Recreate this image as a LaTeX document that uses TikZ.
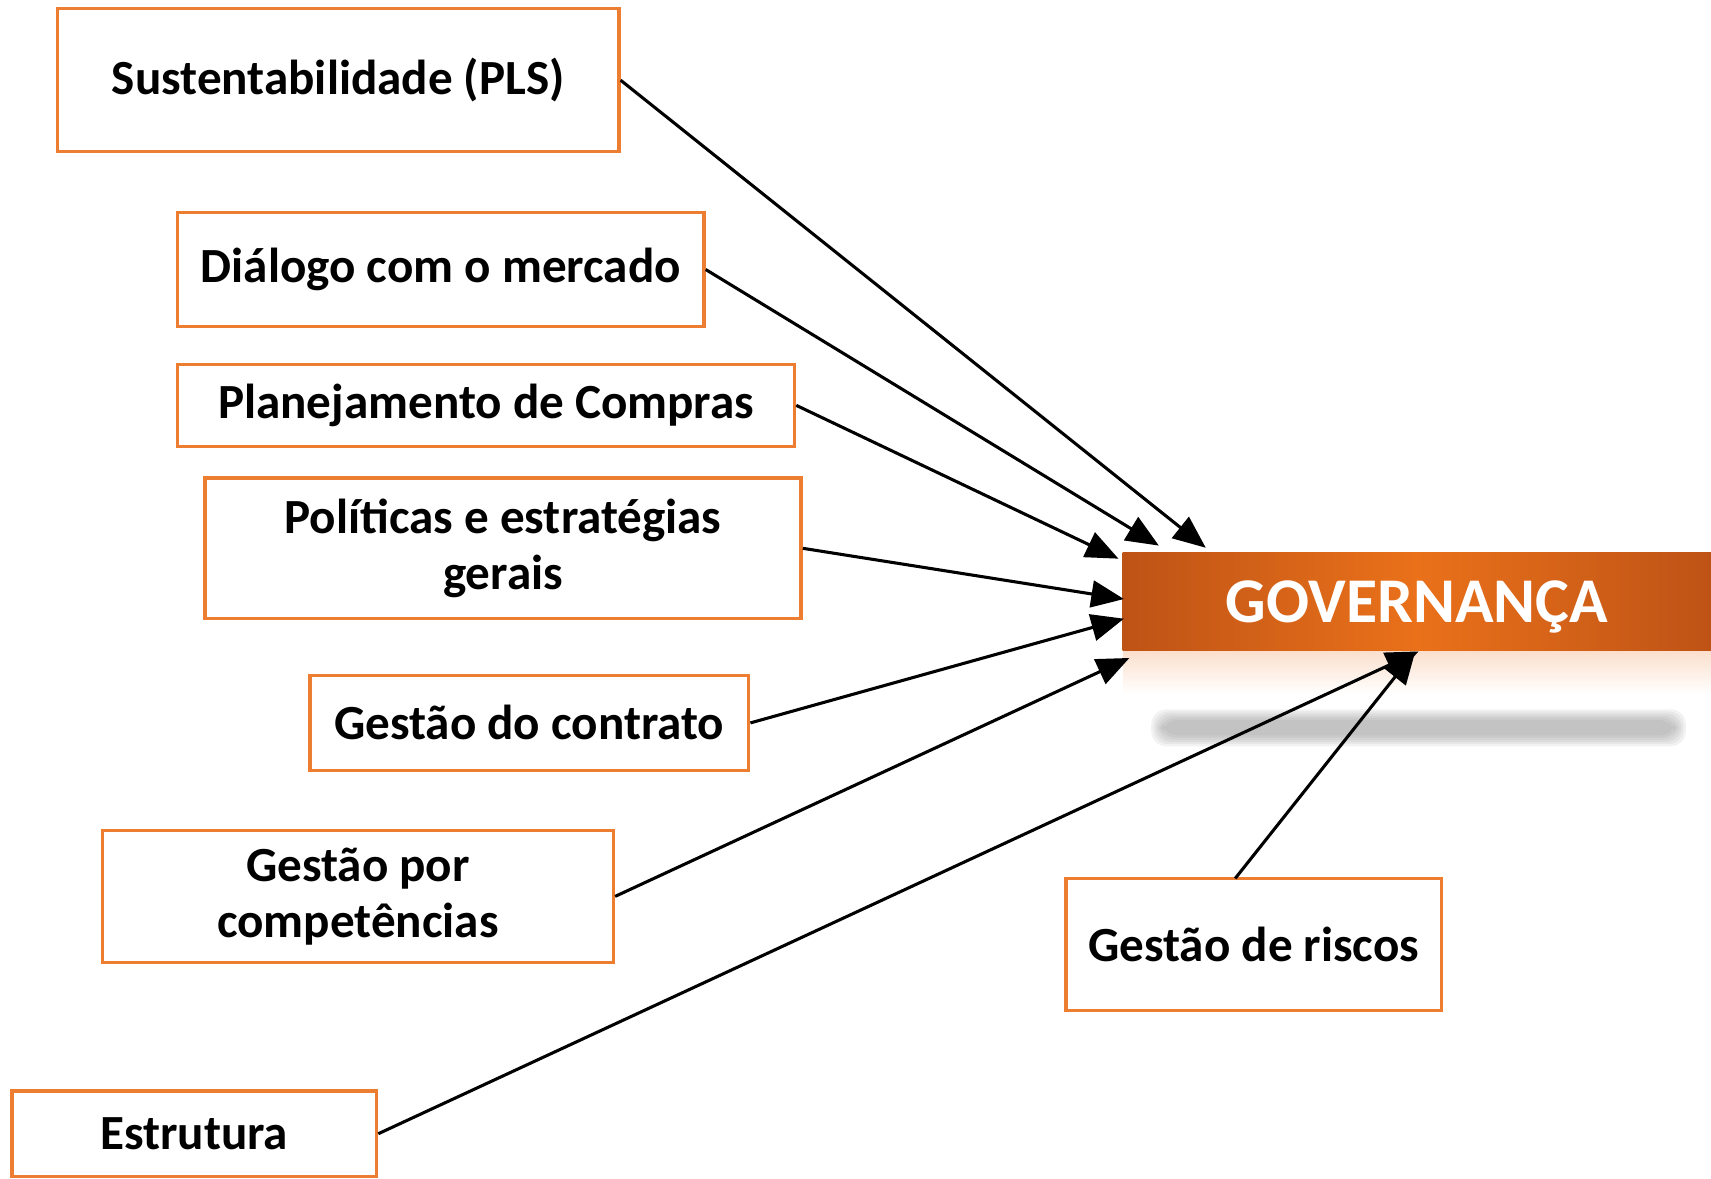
\documentclass[tikz,border=0pt]{standalone}
\usepackage{fontspec}
\setmainfont{Carlito}
\usetikzlibrary{arrows.meta}
\definecolor{boxorange}{RGB}{237,125,49}
\definecolor{govdark}{RGB}{190,83,22}
\definecolor{govlight}{RGB}{234,113,26}

\begin{document}
\begin{tikzpicture}[x=0.01cm,y=-0.01cm,line width=0.8pt]
    \tikzstyle{item}=[draw=boxorange,fill=white,line width=0.9pt,align=center,
        inner sep=2pt,font=\bfseries\fontsize{12.8}{14.5}\selectfont]
    \tikzstyle{gov}=[left color=govdark,right color=govdark,middle color=govlight,
        text=white,minimum width=5.39cm,minimum height=0.9cm,text depth=0pt,
        font=\bfseries\fontsize{16.6}{18}\selectfont]
    \tikzstyle{link}=[->,>={Triangle[length=8.5pt,width=7pt]},black]

    \useasboundingbox (0,0) rectangle (1568,1080);

    % Governanca block with its reflection and soft shadow
    \shade[top color=boxorange!25,bottom color=white] (1029,596) rectangle (1568,636);
    \foreach \i in {0,...,5}
        \fill[gray,opacity=0.1,rounded corners=4pt]
            (1055+2*\i,650+2*\i) rectangle (1545-2*\i,684-2*\i);
    \node[gov] (G) at (1298.5,551) {GOVERNANÇA};

    % The surrounding themes
    \node[item,minimum width=5.14cm,minimum height=1.31cm] (S-1) at (310,73.5) {Sustentabilidade (PLS)};
    \node[item,minimum width=4.82cm,minimum height=1.04cm] (S-2) at (404,247) {Diálogo com o mercado};
    \node[item,minimum width=5.65cm,minimum height=0.75cm] (S-3) at (445.5,371.5) {Planejamento de Compras};
    \node[item,minimum width=5.46cm,minimum height=1.29cm] (S-4) at (461,502.5) {Políticas e estratégias\\gerais};
    \node[item,minimum width=4.02cm,minimum height=0.87cm] (S-5) at (485,662.5) {Gestão do contrato};
    \node[item,minimum width=4.68cm,minimum height=1.21cm] (S-6) at (328,821.5) {Gestão por\\competências};
    \node[item,minimum width=3.34cm,minimum height=0.78cm] (S-7) at (178,1039) {Estrutura};
    \node[item,minimum width=3.44cm,minimum height=1.21cm] (S-8) at (1149,865.5) {Gestão de riscos};

    % Where the arrows end, around the Governanca block
    \coordinate (T-1) at (1105,502);
    \coordinate (T-2) at (1062,500);
    \coordinate (T-3) at (1025,512);
    \coordinate (T-4) at (1030,549);
    \coordinate (T-5) at (1030,567);
    \coordinate (T-6) at (1035,603);
    \coordinate (T-7) at (1300,597);
    \coordinate (T-8) at (1297,597);
    \coordinate (R) at (1132,805);

    % Connect each theme with the Governanca block
    \foreach \n in {1,...,7}
        \draw[link] (S-\n.east) -- (T-\n);
    \draw[link] (R) -- (T-8);
\end{tikzpicture}
\end{document}
